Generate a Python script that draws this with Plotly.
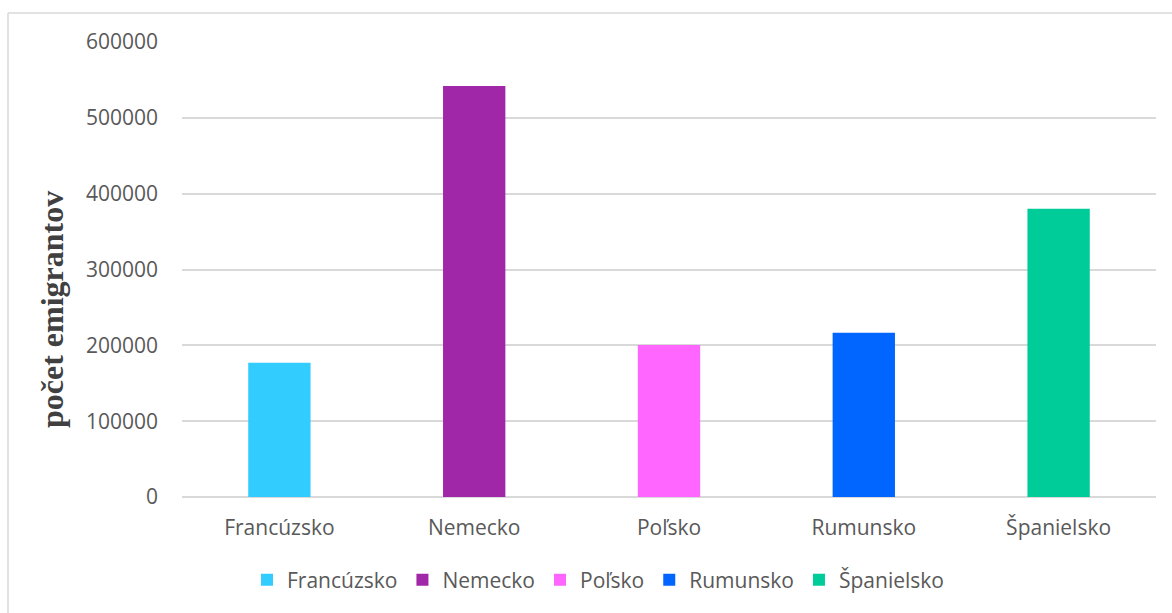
import plotly.graph_objects as go

categories = ["Francúzsko", "Nemecko", "Poľsko", "Rumunsko", "Španielsko"]
values = [177000, 542000, 200500, 216500, 380000]
colors = ["#33CCFF", "#A027A8", "#FF66FF", "#0066FF", "#00CC99"]
y_ticks = [0, 100000, 200000, 300000, 400000, 500000, 600000]
y_title = "počet emigrantov"

W, H = 1172, 613
L, R, T, B = 182, 16, 42, 116
pw = W - L - R
ph = H - T - B

fig = go.Figure()
for cat, val, col in zip(categories, values, colors):
    fig.add_trace(go.Bar(x=[cat], y=[val], name=cat, marker=dict(color=col, line=dict(width=0)),
                         width=0.32))

font_col = "#595959"
FS = 21
fig.update_layout(
    width=W, height=H,
    margin=dict(l=L, r=R, t=T, b=B),
    paper_bgcolor="white", plot_bgcolor="white",
    barmode="overlay",
    font=dict(family="Open Sans", size=FS, color=font_col),
    showlegend=True,
    legend=dict(orientation="h", x=(598 - L) / pw, xanchor="center", y=(H - B - 580) / ph, yanchor="middle",
                font=dict(size=FS, color=font_col), itemwidth=30, traceorder="normal"),
    xaxis=dict(type="category", categoryorder="array", categoryarray=categories,
               showgrid=False, showline=False, ticks="", tickfont=dict(size=FS, color=font_col),
               ticklabelstandoff=16),
    yaxis=dict(range=[0, 600000], tickvals=y_ticks, ticktext=[str(v) for v in y_ticks],
               showgrid=True, gridcolor="#d9d9d9", gridwidth=1.5,
               zeroline=True, zerolinecolor="#d9d9d9", zerolinewidth=1.5,
               showline=False, ticks="", tickfont=dict(size=FS, color=font_col),
               ticklabelstandoff=23),
)

fig.add_annotation(text="<b>" + y_title + "</b>", textangle=-90, xref="paper", yref="paper",
                   x=(52 - L) / pw, y=(H - B - 310) / ph, xanchor="center", yanchor="middle",
                   showarrow=False, font=dict(family="Liberation Serif", size=32, color="#404040"))

# outer chart border (top and left visible)
bx = (8 - L) / pw
by = (H - B - 13) / ph
fig.add_shape(type="line", xref="paper", yref="paper", x0=bx, x1=1.1, y0=by, y1=by,
              line=dict(color="#d9d9d9", width=1.5))
fig.add_shape(type="line", xref="paper", yref="paper", x0=bx, x1=bx, y0=by, y1=-0.5,
              line=dict(color="#d9d9d9", width=1.5))

fig.write_html("out.html", config={"displayModeBar": False},
               post_script="document.body.style.margin='0';")
